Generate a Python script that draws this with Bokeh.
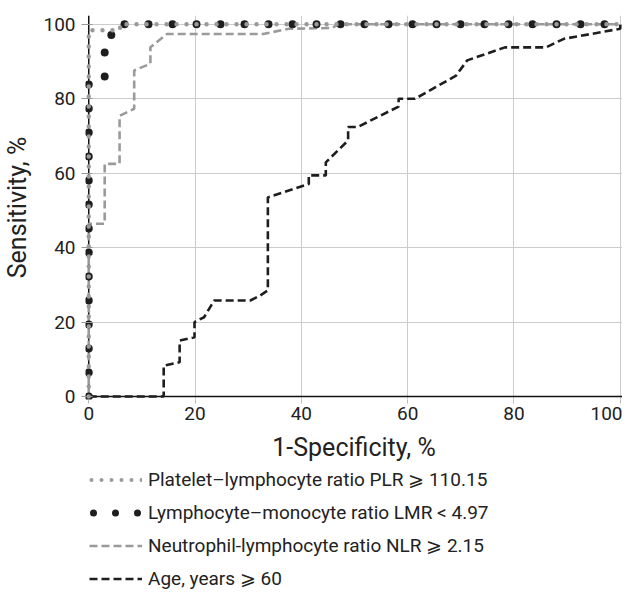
from bokeh.plotting import figure
from bokeh.layouts import column
from bokeh.models import Range1d, FixedTicker, Span, Legend, LegendItem
from bokeh.embed import file_html
from bokeh.resources import INLINE

# ---- data ----
plr_x = [0, 0, 5.9, 5.9, 100]
plr_y = [0, 98.4, 98.4, 100, 100]

lmr_x = [0, 0, 3.0, 3.0, 5.9, 5.9, 100]
lmr_y = [0, 84.6, 84.6, 97.1, 97.1, 100, 100]

nlr_x = [0, 0, 3.0, 3.0, 5.8, 5.8, 8.55, 8.55, 11.6, 11.6, 14.7, 32.8, 37.7, 45.7, 47.0, 100]
nlr_y = [0, 46.4, 46.4, 62.5, 62.5, 75.4, 77.3, 87.6, 89.4, 93.8, 97.4, 97.4, 98.8, 99.0, 100, 100]

age_x = [0, 14.1, 14.1, 17.1, 17.1, 19.9, 19.9, 21.7, 23.6, 30.4, 32.2, 33.7, 33.7, 41.4, 41.4,
         44.6, 44.6, 48.8, 48.8, 50.6, 58.3, 58.3, 61.4, 69.1, 71.2, 78.3, 86.0, 89.4, 100, 100]
age_y = [0, 0, 8.3, 9.2, 15.0, 15.9, 20.0, 21.3, 25.8, 25.8, 27.1, 28.5, 53.5, 57.1, 59.4,
         59.4, 62.9, 68.8, 72.4, 72.4, 77.9, 80.0, 80.0, 86.2, 90.3, 93.8, 93.8, 96.1, 98.8, 100]

ticks = [0, 20, 40, 60, 80, 100]

labels = ["Platelet\u2013lymphocyte ratio PLR \u2a7e 110.15",
          "Lymphocyte\u2013monocyte ratio LMR < 4.97",
          "Neutrophil-lymphocyte ratio NLR \u2a7e 2.15",
          "Age, years \u2a7e 60"]

FONT = "Roboto"
GRAY = "#9a9a9a"
BLACK = "#1e1e1e"

p = figure(width=622, height=467,
           x_range=Range1d(-0.61, 100.42), y_range=Range1d(-0.806, 102.36),
           output_backend="svg", toolbar_location=None,
           min_border_left=74, min_border_right=0, min_border_top=15, min_border_bottom=68)
p.outline_line_color = None
p.background_fill_color = "white"

for ax in (p.xaxis[0], p.yaxis[0]):
    ax.ticker = FixedTicker(ticks=ticks)
    ax.axis_line_color = None
    ax.minor_tick_line_color = None
    ax.major_label_text_font = FONT
    ax.major_label_text_font_size = "19px"
    ax.major_label_text_color = "#222222"
    ax.axis_label_text_font = FONT
    ax.axis_label_text_font_size = "25px"
    ax.axis_label_text_font_style = "normal"
    ax.axis_label_text_color = "#222222"

p.xaxis.axis_label = "1-Specificity, %"
p.yaxis.axis_label = "Sensitivity, %"
p.xaxis.major_tick_out = 4
p.xaxis.major_tick_in = 0
p.xaxis.major_tick_line_color = "#bbbbbb"
p.xaxis.major_label_standoff = 3
p.xaxis.axis_label_standoff = 10
p.yaxis.major_tick_out = 4
p.yaxis.major_tick_in = 7
p.yaxis.major_tick_line_color = "#999999"
p.yaxis.major_label_standoff = 6
p.yaxis.axis_label_standoff = 8

p.xgrid.ticker = FixedTicker(ticks=ticks)
p.ygrid.ticker = FixedTicker(ticks=ticks)
p.grid.grid_line_color = "#cccccc"
p.grid.grid_line_width = 1

p.add_layout(Span(location=0, dimension="height", line_color="#111111", line_width=1.5, level="underlay"))
p.add_layout(Span(location=0, dimension="width", line_color="#111111", line_width=1.5, level="underlay"))

# ---- curves ----
p.line(age_x, age_y, line_color=BLACK, line_width=2.6, line_dash="8 4")
p.line(nlr_x, nlr_y, line_color=GRAY, line_width=2.6, line_dash="8 4")
p.line(lmr_x, lmr_y, line_color=BLACK, line_width=8, line_dash="0 24", line_cap="round")
p.line(plr_x, plr_y, line_color=GRAY, line_width=4.5, line_dash="0 10", line_cap="round")

# ---- legend panel (separate figure below the plot; its ranges keep the
#      sample lines out of view so only the legend shows) ----
lp = figure(width=622, height=122, x_range=Range1d(1000, 1001), y_range=Range1d(1000, 1001),
            output_backend="svg", toolbar_location=None,
            x_axis_type=None, y_axis_type=None,
            min_border_left=0, min_border_right=0, min_border_top=0, min_border_bottom=0)
lp.outline_line_color = None
lp.grid.visible = False

lg_plr = lp.line(plr_x, plr_y, line_color=GRAY, line_width=4, line_dash="0 10",
                 line_dash_offset=8, line_cap="round")
lg_lmr = lp.line(lmr_x, lmr_y, line_color=BLACK, line_width=7, line_dash="0 22",
                 line_dash_offset=18, line_cap="round")
lg_nlr = lp.line(nlr_x, nlr_y, line_color=GRAY, line_width=2.5, line_dash="8 4")
lg_age = lp.line(age_x, age_y, line_color=BLACK, line_width=2.5, line_dash="8 4")

legend = Legend(items=[LegendItem(label=labels[0], renderers=[lg_plr]),
                       LegendItem(label=labels[1], renderers=[lg_lmr]),
                       LegendItem(label=labels[2], renderers=[lg_nlr]),
                       LegendItem(label=labels[3], renderers=[lg_age])],
                location=(4, -6), orientation="vertical",
                glyph_width=53, glyph_height=33, label_height=33, spacing=0,
                padding=0, margin=0, label_standoff=6,
                border_line_color=None, background_fill_alpha=0,
                label_text_font=FONT, label_text_font_size="19px",
                label_text_color="#222222")
lp.add_layout(legend, "center")

layout = column(p, lp, spacing=0)
open("out.html", "w").write(file_html(layout, INLINE))
